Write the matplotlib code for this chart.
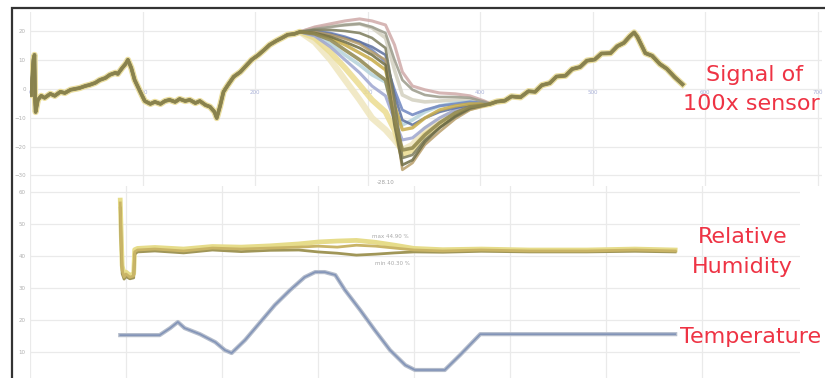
import matplotlib
matplotlib.use('Agg')
import matplotlib.pyplot as plt
from matplotlib.patches import Rectangle

# ---- top panel: signal of the sensors ----
time_pre = [1, 3, 4, 4.5, 5, 7, 10, 13, 18, 22, 27, 31, 36, 40, 44, 49, 53, 58, 62, 67,
            71, 76, 78, 82, 85, 87, 90, 93, 98, 102, 107, 111, 116, 120, 124, 129, 133, 138, 142, 147,
            151, 156, 160, 164, 166, 169, 172, 176, 181, 187, 192, 197, 203, 208, 213, 219, 224, 229, 235]
signal_pre = [-2.1, 10.1, 11.8, -3.8, -8.0, -3.8, -2.4, -3.1, -1.7, -2.4, -1.0, -1.4, -0.3, 0.0, 0.3, 1.0, 1.4, 2.1, 3.1, 3.8,
              4.9, 5.6, 5.2, 7.3, 8.7, 10.1, 7.3, 3.1, -1.0, -4.2, -5.2, -4.5, -5.2, -4.2, -3.8, -4.5, -3.5, -4.2, -3.8, -4.9,
              -4.2, -5.6, -6.2, -8.0, -10.1, -5.9, -1.0, 1.4, 4.2, 5.9, 8.0, 10.1, 11.8, 13.5, 15.3, 16.7, 17.7, 18.8, 19.1]

time_mid = [240, 253, 267, 280, 293, 304, 316, 324, 331, 340, 351, 364, 378, 391, 404]
s01 = [19.8, 21.5, 22.6, 23.6, 24.3, 23.6, 22.2, 15.3, 5.9, 1.0, -0.3, -1.4, -1.7, -2.4, -4.2]
s02 = [19.8, 20.8, 21.5, 22.2, 22.6, 21.5, 19.4, 10.1, 3.1, -0.3, -2.1, -2.8, -2.8, -3.1, -4.5]
s03 = [19.8, 20.1, 19.4, 18.1, 16.3, 13.5, 9.4, -0.3, -7.3, -9.0, -7.3, -5.9, -5.2, -4.5, -4.9]
s04 = [19.8, 19.4, 17.7, 15.3, 12.5, 10.1, 6.6, -5.6, -14.2, -13.5, -10.1, -7.3, -5.9, -5.2, -5.2]
s05 = [19.8, 18.8, 15.6, 11.8, 8.3, 4.9, 2.4, -7.3, -12.5, -10.8, -8.0, -5.9, -4.9, -4.5, -5.2]
s06 = [19.8, 19.1, 17.0, 13.5, 10.1, 6.6, 3.1, -10.1, -21.2, -20.5, -16.0, -11.8, -8.3, -6.2, -5.6]
s07 = [19.8, 17.7, 12.8, 7.3, 1.4, -3.8, -8.0, -14.2, -22.9, -21.2, -16.0, -12.5, -9.0, -6.6, -5.6]
s08 = [19.8, 18.4, 14.6, 10.1, 5.6, 1.0, -2.4, -10.8, -17.7, -17.0, -13.5, -10.1, -7.3, -5.9, -5.2]
s09 = [19.8, 19.4, 18.1, 16.3, 14.2, 11.8, 8.3, -12.5, -26.4, -24.7, -18.4, -13.5, -9.4, -6.6, -5.6]
s10 = [19.8, 16.3, 10.1, 3.1, -3.8, -10.1, -14.2, -17.7, -21.2, -19.4, -14.2, -10.8, -8.0, -5.9, -5.2]
s11 = [19.8, 19.8, 18.8, 17.4, 15.6, 12.8, 10.1, -9.0, -28.1, -25.7, -19.4, -14.9, -10.4, -7.3, -5.9]
s12 = [19.8, 19.8, 19.1, 17.7, 16.3, 14.6, 11.8, -2.1, -10.8, -12.5, -10.1, -8.0, -6.6, -5.6, -5.2]
s13 = [19.8, 20.5, 20.5, 20.1, 19.4, 17.7, 14.2, -3.8, -24.0, -22.9, -17.7, -13.5, -9.7, -6.9, -5.6]
s14 = [19.8, 21.2, 21.9, 22.2, 22.6, 21.2, 17.7, 6.6, -2.1, -3.8, -4.5, -4.2, -3.8, -3.8, -4.5]

time_post = [409, 415, 422, 428, 436, 443, 449, 455, 462, 468, 476, 482, 489, 495, 502,
             508, 516, 522, 528, 533, 537, 540, 543, 547, 553, 560, 566, 573, 580]
signal_post = [-5.2, -4.4, -4.1, -2.6, -2.9, -0.8, -1.0, 1.3, 2.0, 4.3, 4.6, 6.9, 7.6, 9.8, 10.2,
               12.3, 12.4, 14.8, 16.0, 18.2, 19.6, 18.0, 15.6, 12.4, 11.5, 8.6, 7.0, 4.1, 1.6]

# ---- bottom panel: relative humidity and temperature ----
rh_time = [94, 95, 96, 98, 100, 104, 108, 109, 112, 130, 160, 190, 220, 250, 280, 300, 320, 340,
           360, 380, 400, 430, 470, 520, 580, 630, 672]
rh_a = [56.6, 45.0, 35.6, 33.4, 34.4, 33.4, 33.8, 41.3, 41.9, 42.2, 41.6, 42.5, 42.2, 42.5, 42.8, 43.1, 42.8, 43.4,
        43.1, 42.5, 41.9, 41.6, 41.9, 41.6, 41.6, 41.9, 41.6]
rh_b = [55.0, 42.0, 34.5, 32.8, 33.6, 32.9, 33.2, 40.6, 41.3, 41.6, 41.0, 41.9, 41.4, 41.8, 41.9, 41.3, 40.9, 40.3,
        40.6, 41.0, 41.3, 41.2, 41.5, 41.3, 41.3, 41.5, 41.3]
rh_c = [57.5, 47.0, 37.0, 34.2, 35.0, 34.0, 34.5, 42.0, 42.4, 42.7, 42.2, 43.0, 42.8, 43.2, 43.8, 44.4, 44.7, 44.9,
        44.3, 43.4, 42.4, 42.0, 42.2, 41.9, 41.9, 42.2, 41.9]

temp_time = [94, 109, 135, 146, 154, 161, 177, 193, 203, 210, 224, 240, 255, 271, 286, 297, 307, 318, 328, 344,
             359, 375, 391, 401, 417, 432, 448, 469, 510, 594, 672]
temp = [15.3, 15.3, 15.3, 17.5, 19.4, 17.5, 15.6, 13.1, 10.6, 9.7, 13.75, 19.4, 24.7, 29.4, 33.4, 35.0, 35.0, 34.1, 29.4, 23.1,
        16.9, 10.6, 5.9, 4.4, 4.4, 4.4, 9.1, 15.6, 15.6, 15.6, 15.6]

top_yticks = [-30, -20, -10, 0, 10, 20]
top_xticks = [0, 100, 200, 300, 400, 500, 600, 700]
bot_yticks = [10, 20, 30, 40, 50, 60]
bot_xticks = [0, 100, 200, 300, 400, 500, 600, 700]

# drawing order (pale ones first, olive last) and styles
sensors = [s10, s07, s14, s05, s01, s08, s03, s12, s04, s02, s11, s13, s09, s06]
colors = ['#efe6bd', '#ebdc90', '#d3d0c0', '#b5d3da', '#cfaaa8', '#9ea6d0', '#6f86c0', '#5c6f9e',
          '#c8ac48', '#9a9a8a', '#b89e6a', '#7c7c5c', '#6e6c44', '#8e864e']
widths = [4.6, 4.2, 2.6, 2.6, 2.2, 2.2, 2.0, 1.9, 2.4, 1.9, 1.9, 1.9, 2.0, 2.6]

red = '#ee3344'
grid_c = '#eaeaea'

fig = plt.figure(figsize=(8.25, 3.78), dpi=100)

# outer frame of the screenshot
fig.patches.append(Rectangle((12 / 825, -0.05), 1.0, 1 - 8 / 378 + 0.05, fill=False,
                             edgecolor='#333333', linewidth=1.6, transform=fig.transFigure))

ax1 = fig.add_axes([30 / 825, 1 - 186 / 378, 792 / 825, 174 / 378])
for s, c, w in zip(sensors, colors, widths):
    ax1.plot(time_pre + time_mid + time_post, signal_pre + s + signal_post, color=c, lw=w,
             alpha=0.85, solid_joinstyle='round')
ax1.set_xlim(0, 704)
ax1.set_ylim(-33.7, 26.7)
ax1.set_yticks(top_yticks)
ax1.set_xticks(top_xticks)
ax1.grid(True, color=grid_c, lw=0.9)
for sp in ax1.spines.values():
    sp.set_visible(False)
ax1.spines['bottom'].set_position(('data', 0))
ax1.tick_params(length=0, labelsize=4, labelcolor='#b0b0b0', pad=3)
ax1.tick_params(axis='x', labelcolor='#a8b0d8', pad=1)
ax1.text(316, -32.6, '-28.10', fontsize=4, color='#a0a0a0', ha='center', va='center')

ax2 = fig.add_axes([30 / 825, 0, 770 / 825, 192 / 378])
ax2.plot(temp_time, temp, color='#b4bccb', lw=3.0)
ax2.plot(temp_time, temp, color='#8294b8', lw=1.2)
ax2.plot(rh_time, rh_c, color='#e6dc8a', lw=3.4)
ax2.plot(rh_time, rh_b, color='#a09658', lw=2.0)
ax2.plot(rh_time, rh_a, color='#c9b466', lw=2.0)
ax2.set_xlim(0, 802)
ax2.set_ylim(1.9, 61.9)
ax2.set_yticks(bot_yticks)
ax2.set_xticks(bot_xticks)
ax2.grid(True, color=grid_c, lw=0.9)
for sp in ax2.spines.values():
    sp.set_visible(False)
ax2.tick_params(length=0, labelsize=4, labelcolor='#b0b0b0', pad=3, labelbottom=False)
ax2.text(375, 46.0, 'max 44.90 %', fontsize=4, color='#a8a8a8', ha='center', va='center')
ax2.text(378, 37.8, 'min 40.30 %', fontsize=4, color='#a8a8a8', ha='center', va='center')

# red annotations
fs = 16
fig.text(755 / 825, 1 - 75 / 378, 'Signal of', color=red, fontsize=fs, ha='center', va='center')
fig.text(683 / 825, 1 - 104 / 378, '100x sensor', color=red, fontsize=fs, ha='left', va='center')
fig.text(743 / 825, 1 - 237 / 378, 'Relative', color=red, fontsize=fs, ha='center', va='center')
fig.text(742 / 825, 1 - 267 / 378, 'Humidity', color=red, fontsize=fs, ha='center', va='center')
fig.text(680 / 825, 1 - 337 / 378, 'Temperature', color=red, fontsize=fs, ha='left', va='center')

fig.savefig('out.png', dpi=100)
